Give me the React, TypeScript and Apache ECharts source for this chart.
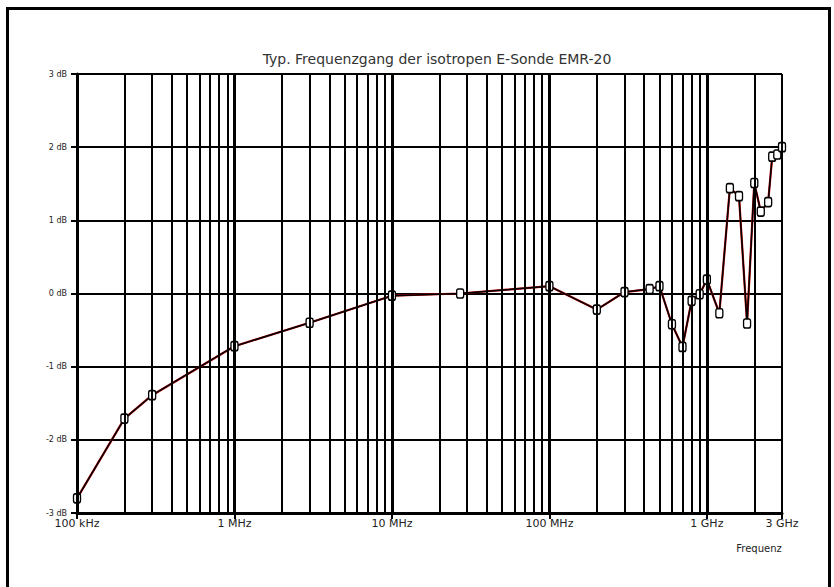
import React, { useEffect, useRef } from "react";
import * as echarts from "echarts";

const TITLE = "Typ. Frequenzgang der isotropen E-Sonde EMR-20";
const X_NAME = "Frequenz";

// frequency in Hz
const freqs = [
  1e5, 2e5, 3e5, 1e6, 3e6, 1e7, 27.12e6, 1e8, 2e8, 3e8, 433e6, 5e8, 6e8, 7e8,
  8e8, 9e8, 1e9, 1.2e9, 1.4e9, 1.6e9, 1.8e9, 2e9, 2.2e9, 2.45e9, 2.6e9, 2.8e9, 3e9,
];
// response in dB
const responseDb = [
  -2.8, -1.71, -1.39, -0.72, -0.4, -0.03, 0.0, 0.1, -0.22, 0.02, 0.06, 0.1, -0.42,
  -0.73, -0.1, -0.01, 0.19, -0.27, 1.44, 1.33, -0.41, 1.51, 1.12, 1.25, 1.87, 1.9, 2.0,
];

const xTickValues = [1e5, 1e6, 1e7, 1e8, 1e9, 3e9];
const xTickLabels = ["100 kHz", "1 MHz", "10 MHz", "100 MHz", "1 GHz", "3 GHz"];
const yTickValues = [-3, -2, -1, 0, 1, 2, 3];
const yTickLabels = ["-3 dB", "-2 dB", "-1 dB", "0 dB", "1 dB", "2 dB", "3 dB"];

// log grid lines: multipliers in each decade
const decades = [1e5, 1e6, 1e7, 1e8, 1e9];
const multipliers = [1, 2, 3, 4, 5, 6, 7, 8, 9];
const X_MAX = 3e9;

const FONT = "'DejaVu Sans', 'Liberation Sans', Arial, sans-serif";

export default function App() {
  const ref = useRef<HTMLDivElement>(null);

  useEffect(() => {
    if (!ref.current) return;
    const chart = echarts.init(ref.current, undefined, { renderer: "svg" });

    const gridLines: any[] = [];
    decades.forEach((d) => {
      multipliers.forEach((m) => {
        const v = d * m;
        if (v > X_MAX * 1.0001) return;
        gridLines.push({
          xAxis: v,
          lineStyle: { color: "#000", width: m === 1 ? 3 : 2, type: "solid" },
        });
      });
    });

    const pts = freqs.map((f, i) => [f, responseDb[i]]);

    const xLabel = (v: number) => {
      const lv = Math.log10(v);
      for (let i = 0; i < xTickValues.length; i++) {
        if (Math.abs(Math.log10(xTickValues[i]) - lv) < 0.01) return xTickLabels[i];
      }
      return "";
    };
    const yLabel = (v: number) => {
      const i = yTickValues.findIndex((t) => Math.abs(t - v) < 1e-6);
      return i >= 0 ? yTickLabels[i] : "";
    };

    chart.setOption({
      animation: false,
      backgroundColor: "#fff",
      title: {
        text: TITLE,
        left: 432,
        top: 47,
        textAlign: "center",
        textStyle: { fontFamily: FONT, fontSize: 14, fontWeight: "normal", color: "#333" },
      },
      grid: { left: 77, right: 52, top: 74, bottom: 74 },
      xAxis: {
        type: "log",
        logBase: 10,
        min: 1e5,
        max: X_MAX,
        axisLine: { show: true, onZero: false, lineStyle: { color: "#000", width: 3 } },
        axisTick: { show: true, length: 6, lineStyle: { color: "#000", width: 2 } },
        splitLine: { show: false },
        minorTick: { show: false },
        axisLabel: {
          formatter: xLabel,
          fontFamily: FONT,
          fontSize: 11,
          color: "#222",
          margin: 5,
          showMaxLabel: true,
          showMinLabel: true,
        },
      },
      yAxis: {
        type: "value",
        min: -3,
        max: 3,
        interval: 1,
        axisLine: { show: true, onZero: false, lineStyle: { color: "#000", width: 3 } },
        axisTick: { show: true, length: 6, lineStyle: { color: "#000", width: 2 } },
        splitLine: { show: true, lineStyle: { color: "#000", width: 2 } },
        axisLabel: {
          formatter: yLabel,
          fontFamily: FONT,
          fontSize: 8,
          color: "#222",
          margin: 10,
        },
      },
      graphic: [
        {
          type: "rect",
          shape: { x: 7.5, y: 8.5, width: 822, height: 600 },
          style: { fill: "none", stroke: "#000", lineWidth: 3 },
          silent: true,
          z: 100,
        },
        {
          type: "text",
          x: 759,
          y: 548,
          style: {
            text: X_NAME,
            fontFamily: FONT,
            fontSize: 10,
            fill: "#222",
            align: "center",
            verticalAlign: "middle",
          },
        },
      ],
      series: [
        {
          type: "line",
          data: [],
          silent: true,
          markLine: {
            silent: true,
            symbol: "none",
            label: { show: false },
            data: gridLines,
          },
          z: 1,
        },
        {
          type: "line",
          data: pts,
          symbol: "none",
          lineStyle: { color: "#c00000", width: 2.2 },
          z: 2,
          silent: true,
        },
        {
          type: "line",
          data: pts,
          symbol: "roundRect",
          symbolSize: [7, 9],
          showAllSymbol: true,
          itemStyle: { color: "#fff", borderColor: "#000", borderWidth: 1.5 },
          lineStyle: { color: "#000", width: 1.5 },
          z: 3,
        },
      ],
    });

    return () => chart.dispose();
  }, []);

  return (
    <div
      ref={ref}
      style={{ position: "fixed", left: 0, top: 0, width: 834, height: 587 }}
    />
  );
}
